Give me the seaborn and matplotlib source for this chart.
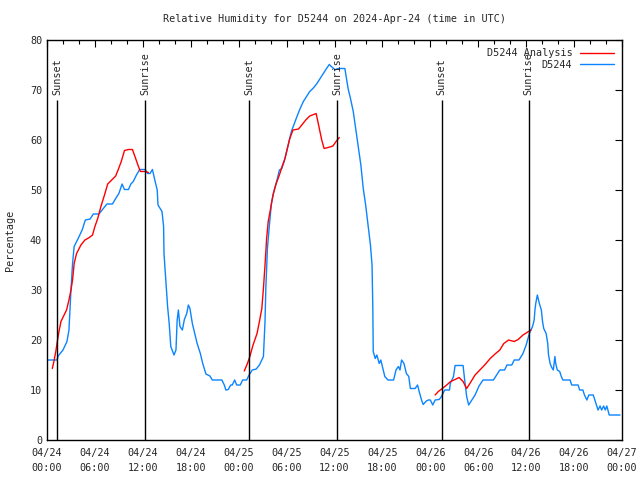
import numpy as np
import pandas as pd
import matplotlib
matplotlib.use("Agg")
import matplotlib.pyplot as plt
import matplotlib.dates as mdates
from matplotlib.ticker import MultipleLocator
from matplotlib.lines import Line2D
import seaborn as sns

sns.set_style("white")
plt.rcParams['font.family'] = ['DejaVu Sans Mono']

BASE = pd.Timestamp("2024-04-24 00:00")

# Station observations (hours since 04/24 00:00 UTC, RH %)
obs_hours = [0.0, 1.25, 1.4, 2.0, 2.5, 2.75, 3.0, 3.2, 3.4, 3.9, 4.4, 4.8, 5.4, 5.8, 6.5, 7.05, 7.5, 8.2, 8.6, 9.0,
             9.4, 9.7, 10.2, 10.5, 10.8, 11.2, 11.6, 12.3, 12.6, 12.9, 13.2, 13.5, 13.8, 13.9, 14.4, 14.6, 14.65, 14.9,
             15.1, 15.3, 15.5, 15.9, 16.15, 16.3, 16.45, 16.65, 16.95, 17.2, 17.5, 17.7, 17.9, 18.2, 18.5, 18.8, 19.2,
             19.5, 19.9, 20.4, 20.7, 21.9, 22.2, 22.4, 22.7, 23.0, 23.2, 23.5, 23.75, 24.2, 24.5, 25.0, 25.3, 25.7,
             26.2, 26.6, 26.9, 27.1, 27.3, 27.4, 27.6, 27.85, 28.1, 28.4, 28.8, 29.1, 29.4, 29.7, 30.0, 30.3, 30.6,
             30.9, 31.3, 31.7, 32.1, 32.5, 32.9, 33.3, 33.8, 34.2, 34.6, 35.0, 35.35, 35.6, 36.1, 36.4, 37.3, 37.5,
             37.7, 38.0, 38.35, 38.7, 39.0, 39.3, 39.6, 39.9, 40.2, 40.5, 40.7, 40.8, 40.85, 41.1, 41.3, 41.6, 41.8,
             42.0, 42.3, 42.7, 43.4, 43.7, 44.0, 44.2, 44.4, 44.7, 45.0, 45.3, 45.5, 46.1, 46.4, 46.6, 46.9, 47.1,
             47.5, 47.75, 48.0, 48.3, 48.6, 49.1, 49.4, 49.8, 50.4, 50.5, 50.9, 51.1, 52.1, 52.3, 52.55, 52.8, 53.2,
             53.6, 54.1, 54.6, 55.9, 56.3, 56.7, 57.3, 57.6, 58.2, 58.5, 59.1, 59.6, 60.0, 60.4, 60.8, 61.0, 61.1,
             61.2, 61.4, 61.65, 61.9, 62.05, 62.2, 62.5, 62.7, 62.8, 63.0, 63.2, 63.4, 63.6, 63.7, 63.9, 64.2, 64.4,
             64.6, 65.5, 65.7, 66.5, 66.7, 67.1, 67.3, 67.6, 67.85, 68.4, 68.6, 68.8, 69.0, 69.25, 69.45, 69.7, 69.9,
             70.1, 70.4, 71.75]
obs_rh = [16, 16, 16.8, 18, 19.7, 22, 30, 35.3, 38.7, 40.3, 42, 44, 44.2, 45.2, 45.2, 46.3, 47.2, 47.2, 48.3, 49.3,
          51.2, 50.1, 50.1, 51.2, 51.7, 53, 54.1, 54.1, 53.3, 53.3, 54.1, 52, 50, 47, 45.7, 42.7, 37.3, 31.3,
          26.7, 23.3, 18.7, 17, 18, 24, 26, 22.7, 22, 24.1, 25.3, 27, 26.3, 23.3, 21.3, 19.3, 17.3,
          15.3, 13.2, 12.8, 12, 12, 11, 10, 10.1, 11, 11, 12, 11, 11, 12, 12, 13, 14,
          14.2, 15, 16, 16.7, 23.7, 30.3, 38.3, 43, 47.3, 49.7, 52, 54, 54.3, 55.7, 57.7, 59.7, 61.7,
          63, 64.7, 66.3, 67.7, 68.7, 69.7, 70.3, 71.3, 72.3, 73.3, 74.3, 75.1, 74.7, 74, 74.3, 74.3, 72.3,
          70.3, 68.3, 65.7, 61.7, 58.3, 55, 50.3, 47, 43, 39, 35, 26.3, 17.7, 16.3, 17, 15.3, 16,
          14.7, 12.7, 12, 12, 14, 14.7, 14, 16, 15.3, 13.3, 12.7, 10.3, 10.3, 11, 9.7, 8, 7.1,
          7.8, 8, 8, 7, 8, 8.1, 8.7, 10, 10, 11.3, 12.7, 14.9, 14.9, 12, 8.7, 7, 8,
          9, 10.8, 12, 12, 13, 14, 14, 15, 15, 16, 16, 17.3, 19, 21.3, 22.7, 24, 26,
          27.3, 29, 27.3, 26, 23.7, 22.3, 21.3, 19.3, 17, 15.3, 14.5, 14, 16.7, 15.3, 14, 13.7, 12.7,
          12, 12, 11, 11, 10, 10, 9, 8, 9, 9, 8, 7, 6, 6.8, 6, 6.8, 6,
          6.8, 5, 5]

# Analysis segments
ana1_hours = [0.67, 0.9, 1.1, 1.35, 1.5, 1.75, 2.05, 2.45, 2.75, 3.0, 3.2, 3.4, 3.7, 4.25, 4.75, 5.3, 5.7, 6.0,
              6.35, 6.75, 7.2, 7.6, 8.1, 8.6, 8.9, 9.3, 9.7, 10.2, 10.7, 11.1, 11.45, 11.7, 12.3, 12.7]
ana1_rh = [14.3, 16, 17.7, 20.3, 21.7, 23.7, 24.7, 26, 28, 30, 32, 35.3, 37.3, 39, 40, 40.5, 41, 42.7,
           44.3, 46.7, 49, 51.2, 52, 52.8, 54, 55.7, 57.9, 58.1, 58.1, 56.3, 54.7, 53.7, 53.7, 53.5]
ana2_hours = [24.7, 25.1, 25.4, 25.8, 26.3, 26.6, 26.9, 27.1, 27.3, 27.5, 27.7, 28.0, 28.3, 28.7, 29.1, 29.5,
              29.8, 30.1, 30.4, 30.8, 31.5, 31.9, 32.4, 32.9, 33.7, 34.1, 34.4, 34.7, 35.2, 35.8, 36.2, 36.6]
ana2_rh = [13.8, 15.3, 16.7, 19, 21.3, 23.7, 26.3, 30.3, 35, 40.3, 43.7, 46.3, 49, 51.3, 53, 55,
           56.3, 58.3, 60.3, 62, 62.2, 63, 64, 64.8, 65.3, 62.3, 60, 58.3, 58.5, 58.8, 59.7, 60.5]
ana3_hours = [48.6, 49.0, 49.5, 50.05, 50.55, 51.1, 51.6, 52.1, 52.55, 52.95, 53.6, 54.2, 54.8, 55.5, 56.1,
              56.7, 57.2, 57.8, 58.5, 59.0, 59.6, 60.6]
ana3_rh = [9, 9.7, 10.3, 11, 11.7, 12.1, 12.5, 11.7, 10.3, 11.3, 13, 14, 15, 16.3, 17.2,
           18, 19.3, 20, 19.7, 20.1, 21, 22]

sunset_hours = [1.3, 25.33, 49.4]
sunrise_hours = [12.3, 36.33, 60.3]

def to_time(hours):
    return BASE + pd.to_timedelta(np.asarray(hours, dtype=float), unit="h")

obs_df = pd.DataFrame({"time": to_time(obs_hours), "rh": obs_rh})
ana_dfs = [pd.DataFrame({"time": to_time(h), "rh": v})
           for h, v in [(ana1_hours, ana1_rh), (ana2_hours, ana2_rh), (ana3_hours, ana3_rh)]]

RED = "#ff0000"
BLUE = "#0a84ff"
FS = 7.3

fig = plt.figure(figsize=(6.4, 4.8), dpi=100)
ax = fig.add_axes([47/640, 40/480, 575/640, 400/480])

sns.lineplot(data=obs_df, x="time", y="rh", ax=ax, color=BLUE, linewidth=1.0, estimator=None)
for d in ana_dfs:
    sns.lineplot(data=d, x="time", y="rh", ax=ax, color=RED, linewidth=1.0, estimator=None)

# Sunset / sunrise markers
for hrs, lab in [(sunset_hours, "Sunset"), (sunrise_hours, "Sunrise")]:
    for t in to_time(hrs):
        ax.vlines(t, 0, 68, color="black", linewidth=1.0)
        ax.text(t, 69, lab, rotation=90, ha="center", va="bottom", fontsize=FS)

ax.set_xlim(BASE, BASE + pd.Timedelta(hours=72))
ax.set_ylim(0, 80)
ax.xaxis.set_major_locator(mdates.HourLocator(byhour=[0, 6, 12, 18]))
ax.xaxis.set_minor_locator(mdates.HourLocator(interval=2))
ax.xaxis.set_major_formatter(mdates.DateFormatter("%m/%d\n%H:%M"))
ax.yaxis.set_major_locator(MultipleLocator(10))

ax.tick_params(axis="both", which="both", direction="in", top=True, right=True,
               labelsize=FS, color="black")
ax.tick_params(axis="both", which="major", length=5, width=0.8)
ax.tick_params(axis="x", which="minor", length=3, width=0.8)
ax.tick_params(axis="x", which="major", pad=6)
for lbl in ax.get_xticklabels():
    lbl.set_linespacing(1.6)
for s in ax.spines.values():
    s.set_color("black")
    s.set_linewidth(1.0)

ax.set_xlabel("")
ax.set_ylabel("Percentage", fontsize=FS, labelpad=11)
ax.set_title("Relative Humidity for D5244 on 2024-Apr-24 (time in UTC)", fontsize=FS, pad=13)

handles = [Line2D([], [], color=RED, lw=1.0), Line2D([], [], color=BLUE, lw=1.0)]
ax.legend(handles, ["D5244 Analysis", "D5244"], loc="upper right", frameon=False,
          markerfirst=False, fontsize=FS, handlelength=3.3, handletextpad=0.8,
          labelspacing=0.15, borderaxespad=0.4)

fig.savefig("out.png", dpi=100)
